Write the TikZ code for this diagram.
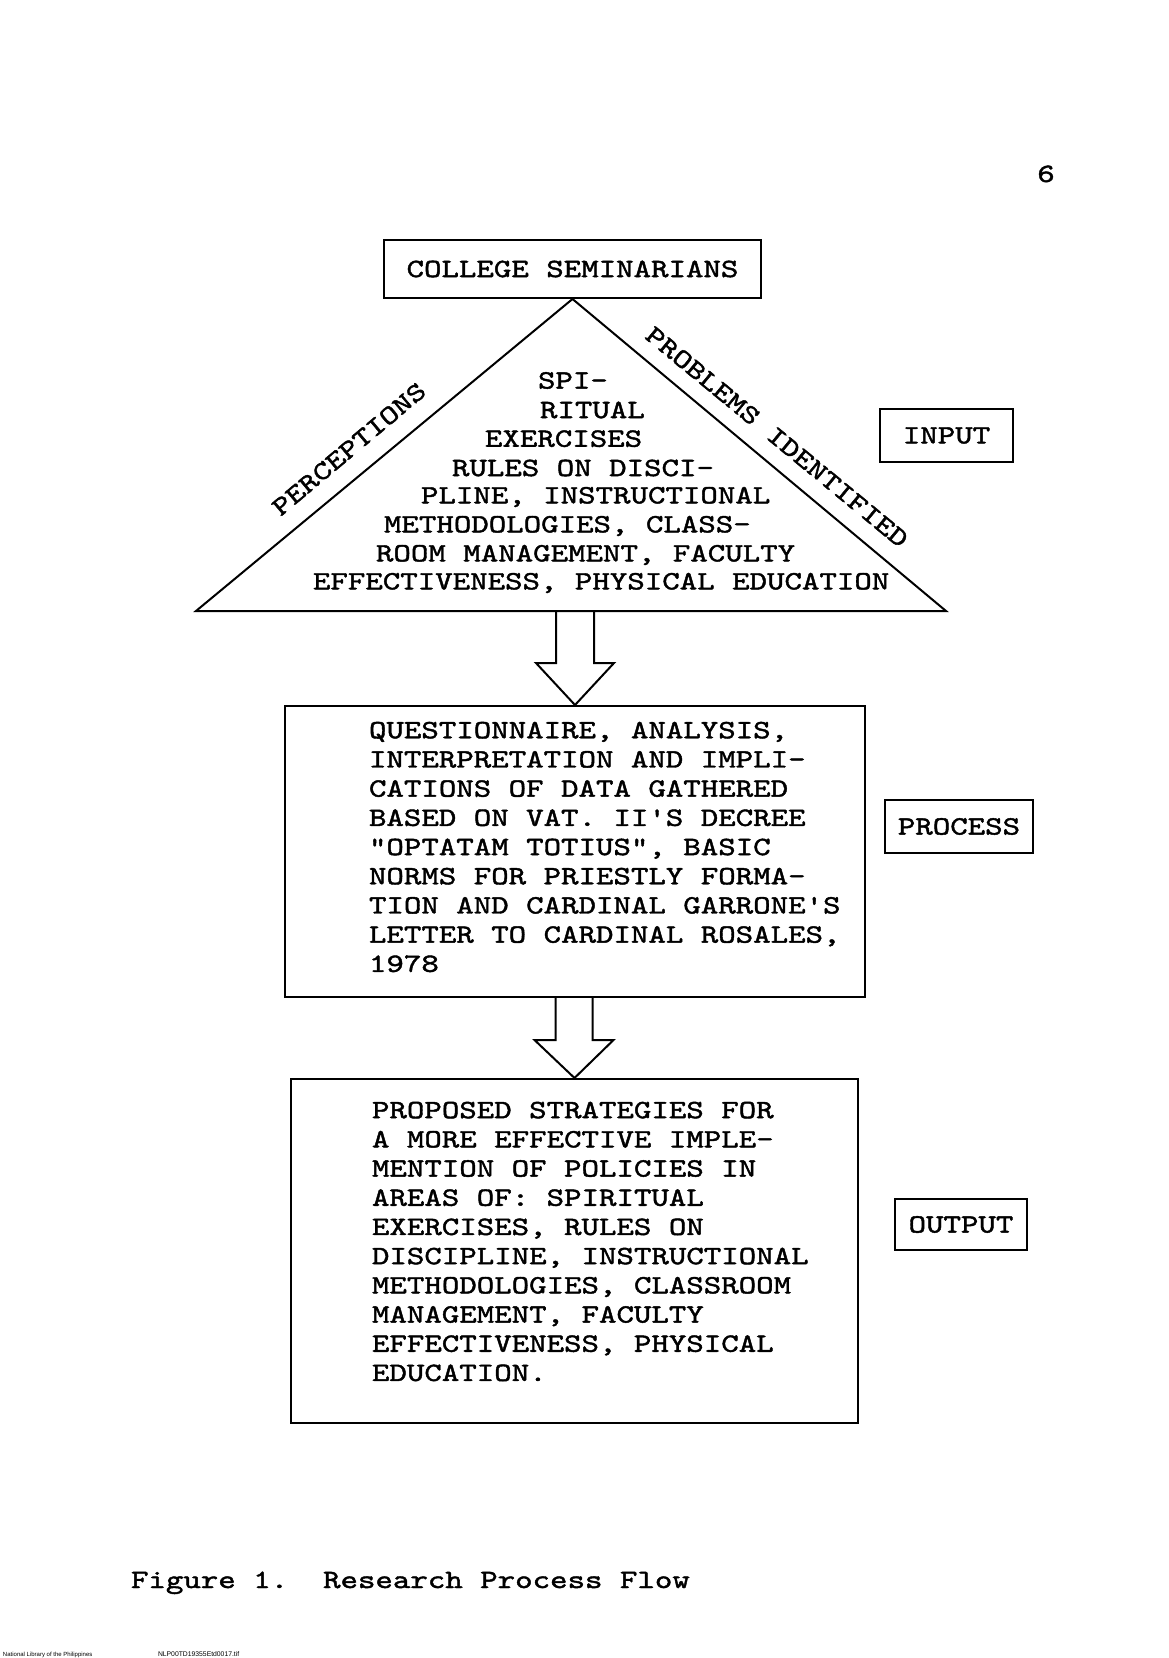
\documentclass[tikz,border=0pt]{standalone}
\usepackage{fontspec}
\setmonofont[FakeBold=1.6,FakeStretch=1.26]{lmmono10-regular.otf}
\newfontfamily\footfont{Liberation Sans}
\usetikzlibrary{calc}
\frenchspacing
\begin{document}
\begin{tikzpicture}[x=0.5pt,y=-0.5pt,line width=1pt,
  tw/.style={font={\ttfamily\fontsize{13.2}{14.6}\selectfont}},
  box/.style={draw,line width=1pt,inner sep=0pt,tw},
  txt/.style={inner sep=0pt,align=left,tw},
  hollow/.style={draw,line width=1pt,line join=miter}]
\useasboundingbox (0,0) rectangle (1168,1658);
\fill[white] (0,0) rectangle (1168,1658);

% page number
\node[txt,anchor=base] (pg) at (1046,182) {6};

% top box and triangle
\node[box,minimum width=188.5pt,minimum height=29pt] (cs) at (572.5,269) {COLLEGE SEMINARIANS};
\coordinate (apex) at (cs.south);
\coordinate (bl) at (196,611);
\coordinate (br) at (946,611);
\draw (bl) -- (apex) -- (br) -- cycle;

\node[txt,rotate=40] (perc) at (349,449) {PERCEPTIONS};
\node[txt,rotate=-39.5] (prob) at (777,437) {PROBLEMS IDENTIFIED};

\foreach \i/\x/\y/\t in {1/537/380.5/{SPI-},2/539/410/{RITUAL},3/484/438.7/{EXERCISES},
  4/451/468/{RULES ON DISCI-},5/420/497/{PLINE, INSTRUCTIONAL},
  6/383/526/{METHODOLOGIES, CLASS-},7/375/555/{ROOM MANAGEMENT, FACULTY},
  8/312/583/{EFFECTIVENESS, PHYSICAL EDUCATION}}
  \node[txt,anchor=west] (t\i) at (\x,\y) {\t};

\node[box,minimum width=66.5pt,minimum height=26.5pt] (inp) at (946.5,435.5) {INPUT};

% process
\node[box,minimum width=290pt,minimum height=145.5pt] (proc) at (575,851.5) {};
\node[txt,anchor=west] (ptext) at (368,847) {QUESTIONNAIRE, ANALYSIS,\\
INTERPRETATION AND IMPLI-\\
CATIONS OF DATA GATHERED\\
BASED ON VAT. II'S DECREE\\
"OPTATAM TOTIUS", BASIC\\
NORMS FOR PRIESTLY FORMA-\\
TION AND CARDINAL GARRONE'S\\
LETTER TO CARDINAL ROSALES,\\
1978};
\node[box,minimum width=74pt,minimum height=26.5pt] (plab) at (959,826.5) {PROCESS};

% output
\node[box,minimum width=283.5pt,minimum height=172pt] (outb) at (574.5,1251) {};
\node[txt,anchor=west] (otext) at (371,1241.5) {PROPOSED STRATEGIES FOR\\
A MORE EFFECTIVE IMPLE-\\
MENTION OF POLICIES IN\\
AREAS OF: SPIRITUAL\\
EXERCISES, RULES ON\\
DISCIPLINE, INSTRUCTIONAL\\
METHODOLOGIES, CLASSROOM\\
MANAGEMENT, FACULTY\\
EFFECTIVENESS, PHYSICAL\\
EDUCATION.};
\node[box,minimum width=66pt,minimum height=25.5pt] (olab) at (961,1224.5) {OUTPUT};

% hollow block arrows
\draw[hollow] ($(proc.north)+(-19,-95)$) -- ++(0,53) -- ++(-20,0) -- (proc.north)
  -- ++(39,-42) -- ++(-20,0) -- ++(0,-53);
\draw[hollow] ($(outb.north)+(-19,-82)$) -- ++(0,44) -- ++(-21,0) -- (outb.north)
  -- ++(39,-38) -- ++(-21,0) -- ++(0,-44);

% caption
\node[txt,anchor=base west] (cap) at (130,1588) {Figure 1.~~Research Process Flow};

% footer
\node[inner sep=0pt,anchor=base west,font={\footfont\fontsize{3}{3}\selectfont}] (lib) at (2,1656) {National Library of the Philippines};
\node[inner sep=0pt,anchor=base west,font={\footfont\fontsize{3.4}{3.4}\selectfont}] (fn) at (157,1656) {NLP00TD19355Etd0017.tif};
\end{tikzpicture}
\end{document}
